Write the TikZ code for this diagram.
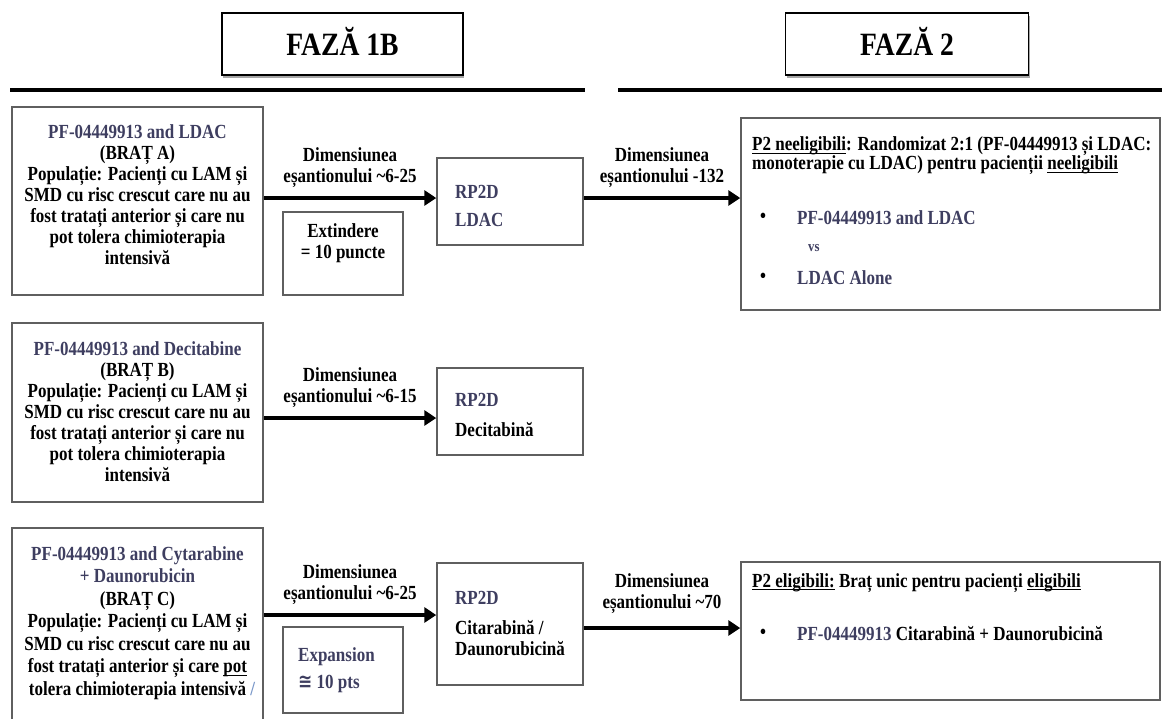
\documentclass[tikz,border=0pt]{standalone}
\usepackage{fontspec}
\setmainfont{Liberation Serif}[FakeStretch=0.85]
\newfontfamily\dvs{DejaVu Sans}[FakeStretch=0.85]
\usetikzlibrary{arrows.meta,shadows}
\definecolor{slate}{RGB}{62,62,96}
\definecolor{edge}{RGB}{95,95,95}
\definecolor{slash}{RGB}{120,150,200}
\newcommand\bodyfont{\fontsize{20}{21}\selectfont\bfseries}
\newcommand\hdrfont{\fontsize{32.5}{34}\selectfont\bfseries}
\newcommand\ulin[1]{\setbox0\hbox{#1}\rlap{\rule[-3pt]{\wd0}{1.2pt}}\box0\relax}
\tikzset{
  box/.style={draw=edge, line width=1.5pt, fill=white, inner sep=0pt},
  hdrbox/.style={draw=black, line width=1.6pt, fill=white, font=\hdrfont, inner sep=0pt,
    drop shadow={shadow xshift=1pt, shadow yshift=-3pt, opacity=0.35, fill=black}},
  rulerline/.style={line width=4pt},
  arr/.style={line width=4pt, -{Triangle[length=12pt,width=15pt]}},
  txt/.style={font=\bodyfont, inner sep=0pt, align=center},
  ltxt/.style={font=\bodyfont, inner sep=0pt, align=left, anchor=west},
  lbl/.style={font=\bodyfont, inner sep=0pt, align=center, above=#1},
  lbl/.default=8pt
}
\begin{document}
\begin{tikzpicture}[x=1pt,y=-1pt]
\useasboundingbox (0,0) rectangle (1162,718);
\clip (0,0) rectangle (1162,718);
% headers
\node[hdrbox, minimum width=241pt, minimum height=62pt] (h1) at (342.5,44) {\raisebox{6pt}{FAZĂ 1B}};
\node[hdrbox, minimum width=243pt, minimum height=62pt] (h2) at (907,44) {\raisebox{6pt}{FAZĂ 2}};
\draw[rulerline] (10,90) -- (585,90);
\draw[rulerline] (618,90) -- (1162,90);
% left boxes
\node[box, minimum width=251pt, minimum height=188pt] (A) at (137.5,201) {};
\node[txt] (At) at (137.5,195) {{\color{slate}PF-04449913 and LDAC}\\(BRAȚ A)\\Populație: Pacienți cu LAM și\\SMD cu risc crescut care nu au\\fost tratați anterior și care nu\\pot tolera chimioterapia\\intensivă};
\node[box, minimum width=251pt, minimum height=179pt] (B) at (137.5,412.5) {};
\node[txt] (Bt) at (137.5,412) {{\color{slate}PF-04449913 and Decitabine}\\(BRAȚ B)\\Populație: Pacienți cu LAM și\\SMD cu risc crescut care nu au\\fost tratați anterior și care nu\\pot tolera chimioterapia\\intensivă};
\node[box, minimum width=251pt, minimum height=212pt] (C) at (137.5,634) {};
\node[txt, font=\fontsize{20}{22.5}\selectfont\bfseries] (Ct) at (137.5,623) {{\color{slate}PF-04449913 and Cytarabine}\\{\color{slate}+ Daunorubicin}\\(BRAȚ C)\\Populație: Pacienți cu LAM și\\SMD cu risc crescut care nu au\\fost tratați anterior și care \ulin{pot}\\tolera chimioterapia intensivă\rlap{\ \color{slash}/}};
% expansion boxes
\node[box, minimum width=120pt, minimum height=83pt] (ext) at (343,253.5) {};
\node[txt] (extt) at (343,243.5) {Extindere\\= 10 puncte};
\node[box, minimum width=120pt, minimum height=86pt] (exp) at (343,670) {};
\node[ltxt, text=slate] (expt) at (298,670.5) {Expansion\\[6pt]{\dvs\bfseries ≅} 10 pts};
% RP2D boxes
\node[box, minimum width=146pt, minimum height=87pt] (rA) at (510,201.5) {};
\node[ltxt, text=slate] (rAt) at (455,206) {RP2D\\[7pt]LDAC};
\node[box, minimum width=146pt, minimum height=87pt] (rB) at (510,411.5) {};
\node[ltxt] (rBt) at (455,415) {{\color{slate}RP2D}\\[9pt]Decitabină};
\node[box, minimum width=146pt, minimum height=122pt] (rC) at (510,624) {};
\node[ltxt] (rCt) at (455,623) {{\color{slate}RP2D}\\[9pt]Citarabină /\\Daunorubicină};
% phase 2 boxes
\node[box, minimum width=419pt, minimum height=192pt] (p2a) at (950.5,214) {};
\node[ltxt, font=\fontsize{20}{19}\selectfont\bfseries] (p2at) at (752,156) {\ulin{P2 neeligibili}: Randomizat 2:1 (PF-04449913 și LDAC:\\monoterapie cu LDAC) pentru pacienții \ulin{neeligibili}};
\node[ltxt] (b1) at (760,218) {•};
\node[ltxt, text=slate] (b1t) at (797,218) {PF-04449913 and LDAC};
\node[ltxt, text=slate, font=\fontsize{15}{16}\selectfont\bfseries] (vs) at (808,248) {vs};
\node[ltxt] (b2) at (760,278) {•};
\node[ltxt, text=slate] (b2t) at (797,278) {LDAC Alone};
\node[box, minimum width=419pt, minimum height=138pt] (p2c) at (950.5,631) {};
\node[ltxt] (p2ct) at (752,583) {\ulin{P2 eligibili:} Braț unic pentru pacienți \ulin{eligibili}};
\node[ltxt] (b3) at (760,634) {•};
\node[ltxt] (b3t) at (797,634) {{\color{slate}PF-04449913} Citarabină + Daunorubicină};
% arrows
\draw[arr] (A.east |- 0,198) -- node[lbl]{Dimensiunea\\eșantionului \textasciitilde6-25} (rA.west |- 0,198);
\draw[arr] (B.east |- 0,418) -- node[lbl]{Dimensiunea\\eșantionului \textasciitilde6-15} (rB.west |- 0,418);
\draw[arr] (C.east |- 0,615) -- node[lbl]{Dimensiunea\\eșantionului \textasciitilde6-25} (rC.west |- 0,615);
\draw[arr] (rA.east |- 0,198) -- node[lbl]{Dimensiunea\\eșantionului -132} (p2a.west |- 0,198);
\draw[arr] (rC.east |- 0,628) -- node[lbl=12pt]{Dimensiunea\\eșantionului \textasciitilde70} (p2c.west |- 0,628);
\end{tikzpicture}
\end{document}
